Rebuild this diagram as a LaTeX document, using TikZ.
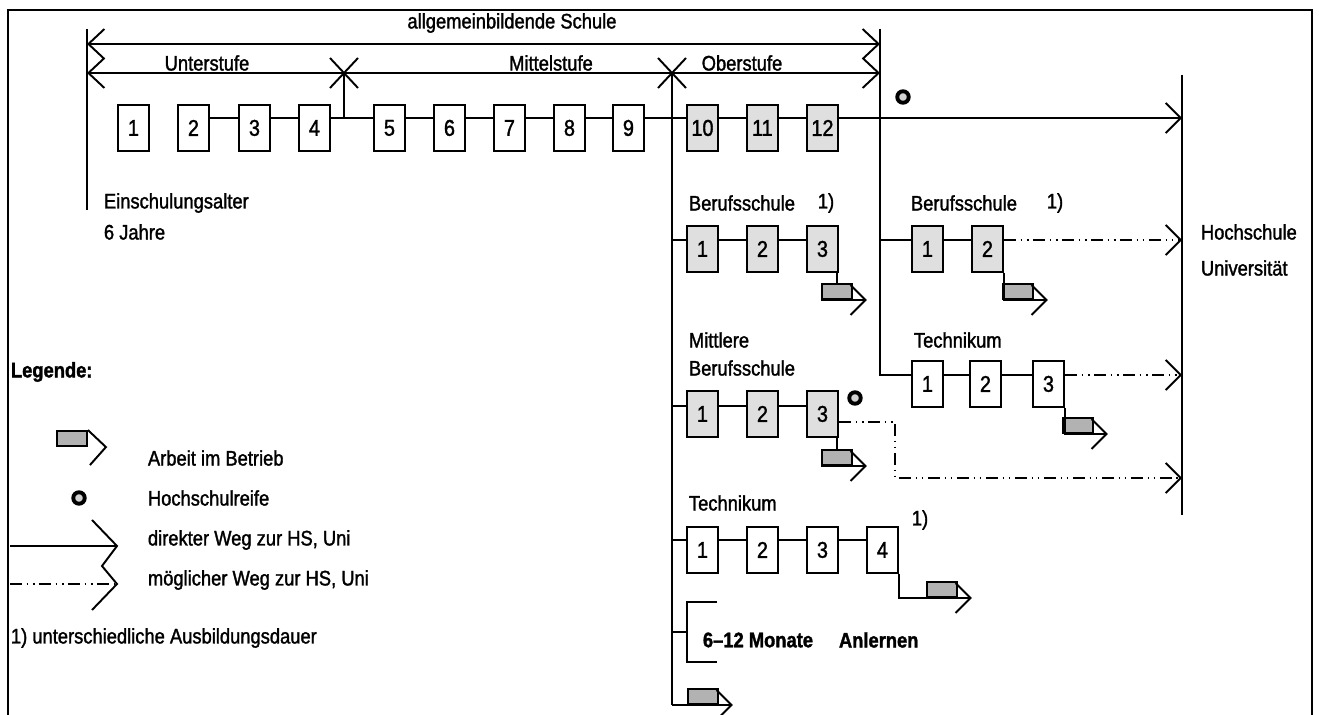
\documentclass[tikz,border=0pt]{standalone}
\usepackage{fontspec}
\setmainfont{Liberation Sans}[FakeStretch=0.87, FakeBold=1.5]
\usetikzlibrary{positioning,arrows.meta,calc}

\begin{document}
\begin{tikzpicture}[
  x=0.02cm, y=-0.02cm,
  every node/.style={font=\fontsize{12}{14}\selectfont},
  every path/.style={line width=1.1pt},
  jahr/.style={rectangle, draw, anchor=north west, inner sep=0pt, minimum width=0.62cm, minimum height=0.92cm, font=\fontsize{13}{15}\selectfont},
  schule/.style={jahr, fill=gray!25},
  arbeit/.style={rectangle, draw, anchor=south west, fill=gray!60, inner sep=0pt, minimum width=0.6cm, minimum height=0.3cm},
  reife/.style={circle, draw, line width=2.2pt, fill=gray!35, inner sep=0pt, minimum size=0.23cm},
  lbl/.style={anchor=west, inner sep=0pt},
  pfeil/.style={-{Straight Barb[length=0.3cm,width=0.6cm]}},
  moeglich/.style={pfeil, dash pattern=on 7pt off 2.5pt on 1pt off 2.5pt on 1pt off 2.5pt},
  mass/.style={{Straight Barb[length=0.32cm,width=0.6cm]}-{Straight Barb[length=0.32cm,width=0.6cm]}},
]
\useasboundingbox (0,0) rectangle (1319,715);

% Rahmen
\draw (8,720) -- (8,10) -- (1312,10) -- (1312,720);

% Hilfspunkte
\coordinate (lo) at (87,29);
\coordinate (lu) at (87,210);
\coordinate (ro) at (880,29);
\coordinate (x1) at (344,73);
\coordinate (x2) at (672,73);
\coordinate (hso) at (1182,75);
\coordinate (hsu) at (1182,515);
\coordinate (d1) at (0,44);
\coordinate (d2) at (0,73);
\coordinate (r0) at (0,118);
\coordinate (rb) at (0,240);
\coordinate (rm) at (0,406);
\coordinate (mw) at (0,422);
\coordinate (knick) at (895,478);
\coordinate (rt) at (0,540);
\coordinate (ra) at (0,632);
\coordinate (ru) at (0,705);
\coordinate (rr) at (0,375);

% allgemeinbildende Schule
\node (allg) at (512,23) {allgemeinbildende Schule};
\draw (lo) -- (lu);
\draw[mass] (lo |- d1) -- (ro |- d1);
\draw[mass] (lo |- d2) -- (ro |- d2);
\foreach \c in {x1,x2}
  \draw ($(\c)+(-14,-15)$) -- ($(\c)+(14,15)$) ($(\c)+(14,-15)$) -- ($(\c)+(-14,15)$);
\node (unter) at (207,63) {Unterstufe};
\node (mittel) at (551,63) {Mittelstufe};
\node (ober) at (742,63) {Oberstufe};

% Klassen 1--12
\foreach \n/\x in {1/117,2/177,3/238,4/298,5/373,6/433,7/493,8/553,9/612}
  \node[jahr] (k\n) at (\x,104) {\n};
\foreach \n/\x in {10/686,11/746,12/806}
  \node[schule] (k\n) at (\x,104) {\n};
\foreach \a/\b in {2/3,3/4,4/5,5/6,6/7,7/8,8/9,9/10,10/11,11/12}
  \draw (k\a.east |- r0) -- (k\b.west |- r0);
\draw (x1) -- (x1 |- r0);
\draw (x2) -- (x2 |- ru);
\draw (ro) |- (rr -| 911,0);
\draw (hso) -- (hsu);
\draw[pfeil] (k12.east |- r0) -- (hso |- r0);
\node[reife] (reife1) at (903,97) {};

\node[lbl] (einsch) at (103,203) {Einschulungsalter};
\node[lbl] (sechs) at (103,232) {6 Jahre};

% Berufsschule (links)
\node[lbl] (bs) at (688,203) {Berufsschule};
\node (bsfn) at (826,203) {1)};
\foreach \n/\x in {1/686,2/746,3/806}
  \node[schule] (b\n) at (\x,225) {\n};
\draw (x2 |- rb) -- (b1.west |- rb);
\draw (b1.east |- rb) -- (b2.west |- rb);
\draw (b2.east |- rb) -- (b3.west |- rb);
\node[arbeit] (ab) at (821,300) {};
\draw (b3.south -| ab.north) -- (ab.north);
\draw[pfeil] (ab.south west) -- ([xshift=0.28cm]ab.south east);

% Mittlere Berufsschule
\node[lbl] (mbs1) at (688,340) {Mittlere};
\node[lbl] (mbs2) at (688,368) {Berufsschule};
\foreach \n/\x in {1/686,2/746,3/806}
  \node[schule] (m\n) at (\x,390) {\n};
\draw (x2 |- rm) -- (m1.west |- rm);
\draw (m1.east |- rm) -- (m2.west |- rm);
\draw (m2.east |- rm) -- (m3.west |- rm);
\node[reife] (reife2) at (855,398) {};
\draw[moeglich] (m3.east |- mw) -| (knick) -- (hsu |- knick);
\node[arbeit] (am) at (821,466) {};
\draw (m3.south -| am.north) -- (am.north);
\draw[pfeil] (am.south west) -- ([xshift=0.28cm]am.south east);

% Technikum (links)
\node[lbl] (tech) at (688,503) {Technikum};
\foreach \n/\x in {1/686,2/746,3/806,4/866}
  \node[jahr] (t\n) at (\x,526) {\n};
\draw (x2 |- rt) -- (t1.west |- rt);
\foreach \a/\b in {1/2,2/3,3/4}
  \draw (t\a.east |- rt) -- (t\b.west |- rt);
\node (techfn) at (920,520) {1)};
\node[arbeit] (at) at (926,598) {};
\draw[pfeil] (t4.south east) |- ([xshift=0.28cm]at.south east);

% Anlernen
\draw (x2 |- ra) -- (687,632);
\draw (717,602) -- (687,602) -- (687,662) -- (717,662);
\node[lbl, font=\fontsize{12}{14}\selectfont\bfseries] (monate) at (702,640) {6--12 Monate};
\node[lbl, font=\fontsize{12}{14}\selectfont\bfseries] (anl) at (838,640) {Anlernen};
\node[arbeit] (au) at (687,705) {};
\draw[pfeil] (x2 |- ru) -- ([xshift=0.28cm]au.south east);

% Berufsschule (rechts)
\node[lbl] (rbs) at (910,203) {Berufsschule};
\node (rbsfn) at (1055,203) {1)};
\foreach \n/\x in {1/911,2/971}
  \node[schule] (rb\n) at (\x,225) {\n};
\draw (ro |- rb) -- (rb1.west |- rb);
\draw (rb1.east |- rb) -- (rb2.west |- rb);
\draw[moeglich] (rb2.east |- rb) -- (hso |- rb);
\node[arbeit] (arb) at (1002,300) {};
\draw[pfeil] (rb2.south east) |- ([xshift=0.28cm]arb.south east);

% Technikum (rechts)
\node[lbl] (rtech) at (913,340) {Technikum};
\foreach \n/\x in {1/911,2/969,3/1032}
  \node[jahr] (rt\n) at (\x,360) {\n};
\draw (rt1.east |- rr) -- (rt2.west |- rr);
\draw (rt2.east |- rr) -- (rt3.west |- rr);
\draw[moeglich] (rt3.east |- rr) -- (hso |- rr);
\node[arbeit] (art) at (1062,434) {};
\draw[pfeil] (rt3.south east) |- ([xshift=0.28cm]art.south east);

\node[lbl] (hs) at (1200,232) {Hochschule};
\node[lbl] (uni) at (1200,268) {Universität};

% Legende
\node[lbl, font=\fontsize{12}{14}\selectfont\bfseries] (leg) at (10,372) {Legende:};
\node[arbeit] (legab) at (56,447) {};
\draw (legab.north east) -- ++(18,17) -- ++(-16,18);
\node[lbl] (legabt) at (147,458) {Arbeit im Betrieb};
\node[reife] (legre) at (79,498) {};
\node[lbl] (legret) at (147,498) {Hochschulreife};
\draw (10,546) -- (117,546);
\draw[dash pattern=on 7pt off 2.5pt on 1pt off 2.5pt on 1pt off 2.5pt] (10,584) -- (117,584);
\draw (92,520) -- (117,546) -- (102,566) -- (117,584) -- (92,610);
\node[lbl] (legdir) at (147,540) {direkter Weg zur HS, Uni};
\node[lbl] (legmog) at (147,580) {möglicher Weg zur HS, Uni};
\node[lbl] (legfn) at (10,638) {1) unterschiedliche Ausbildungsdauer};
\end{tikzpicture}
\end{document}
